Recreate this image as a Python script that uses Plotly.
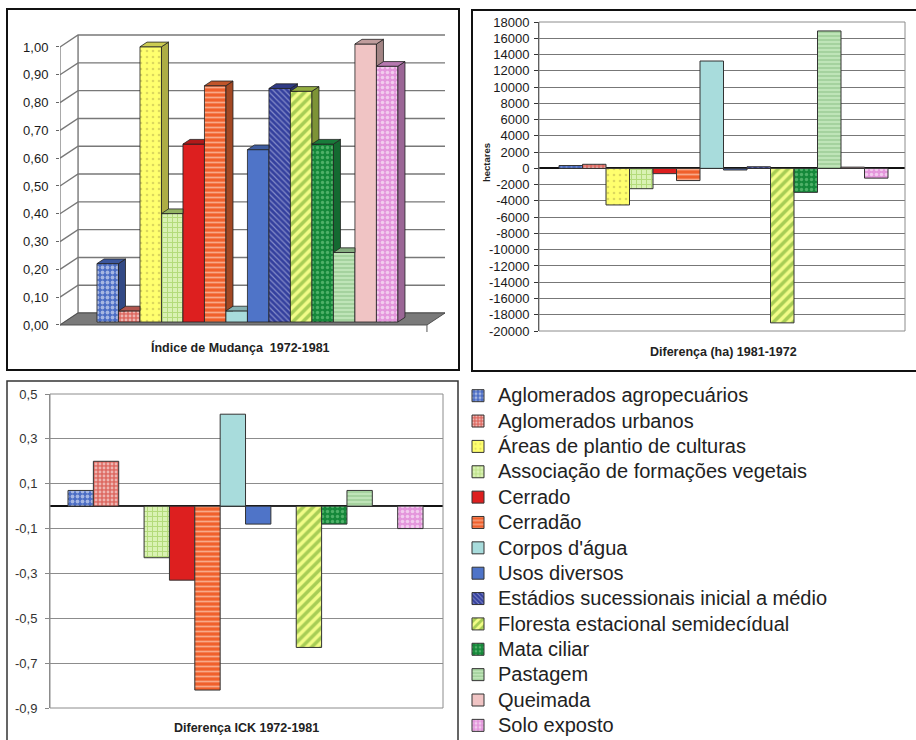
import plotly.graph_objects as go

W, H = 916, 740
FONT = "Liberation Sans, Arial, Helvetica, sans-serif"

# ---------------------------------------------------------------- data
categories = [
    "Aglomerados agropecuários",
    "Aglomerados urbanos",
    "Áreas de plantio de culturas",
    "Associação de formações vegetais",
    "Cerrado",
    "Cerradão",
    "Corpos d'água",
    "Usos diversos",
    "Estádios sucessionais inicial a médio",
    "Floresta estacional semidecídual",
    "Mata ciliar",
    "Pastagem",
    "Queimada",
    "Solo exposto",
]

indice_mudanca = [0.21, 0.04, 0.99, 0.39, 0.64, 0.85, 0.04, 0.62, 0.84, 0.83, 0.64, 0.25, 1.00, 0.92]
diferenca_ha = [350, 500, -4500, -2500, -650, -1500, 13200, -200, 200, -19000, -2950, 16900, 150, -1200]
diferenca_ick = [0.07, 0.20, 0.0, -0.23, -0.33, -0.82, 0.41, -0.08, 0.0, -0.63, -0.08, 0.07, 0.0, -0.10]

indice_ticks = [k / 10 for k in range(11)]
indice_ticktext = [f"{t:.2f}".replace(".", ",") for t in indice_ticks]
ha_ticks = list(range(-20000, 18001, 2000))
ha_ticktext = [str(t) for t in ha_ticks]
ick_ticks = [-0.9, -0.7, -0.5, -0.3, -0.1, 0.1, 0.3, 0.5]
ick_ticktext = [f"{t:.1f}".replace(".", ",") for t in ick_ticks]

# ---------------------------------------------------------------- fill styles
base_colors = ["#4a6cc4", "#dd6a62", "#ffff66", "#b8e07a", "#dd1f1f", "#f06a34", "#a8dcdc",
               "#4f74c8", "#3b48a6", "#b8d850", "#1e9a48", "#a8d8a0", "#f0c4c4", "#e496dc"]
pattern_shapes = [".", ".", ".", "+", "", "-", "", "", "\\", "/", ".", "-", "", "."]
pattern_fg = ["#ffffff", "#ffffff", "#b8b050", "#8cc440", "#dd1f1f", "#fff2e6", "#a8dcdc",
              "#4f74c8", "#d4d8f2", "#5c9e22", "#8ad896", "#68a862", "#f0c4c4", "#ffffff"]
pattern_bg = ["#4a6cc4", "#dd6a62", "#ffff6e", "#daf2b4", "#dd1f1f", "#f0602c", "#a8dcdc",
              "#4f74c8", "#34409e", "#f2fc88", "#15883a", "#bfe4b8", "#f0c4c4", "#e496dc"]
pattern_size = [5, 4, 6, 5, 8, 5, 8, 8, 4, 7, 5, 4, 8, 5]
pattern_solidity = [0.45, 0.4, 0.15, 0.35, 0.3, 0.35, 0.3, 0.3, 0.3, 0.5, 0.35, 0.3, 0.3, 0.4]

LEGEND_TEXT_PX = 20   # drawn size of the legend labels
LEGEND_ROW_PX = 17.2  # nominal legend font size, sets the row pitch


def hx(px):
    return px / W


def hy(py):
    return 1 - py / H


def shade(col, f):
    r, g, b = int(col[1:3], 16), int(col[3:5], 16), int(col[5:7], 16)
    return f"rgb({round(r * f)},{round(g * f)},{round(b * f)})"


def pattern(i):
    return dict(shape=pattern_shapes[i], fgcolor=pattern_fg[i], bgcolor=pattern_bg[i],
                size=pattern_size[i], solidity=pattern_solidity[i])


def clip_above(poly, h):
    """Keep the part of a polygon lying at or above the level h."""
    out = []
    n = len(poly)
    for k in range(n):
        p, q = poly[k], poly[(k + 1) % n]
        pin, qin = p[1] >= h, q[1] >= h
        if pin:
            out.append(p)
        if pin != qin:
            t = (h - p[1]) / (q[1] - p[1])
            out.append((p[0] + t * (q[0] - p[0]), h))
    return out


fig = go.Figure()

# ---------------------------------------------------------------- panel 1: 3-D columns
DX, DY = 0.84, 0.043          # floor depth (x in column widths, y in index units)
F0 = 0.25                     # depth at which the columns stand
BD = 0.39                     # column depth, as a share of the floor depth
SX, SY = BD * DX, BD * DY
X_LEFT, X_RIGHT = -2.22, 14.85
xb, xrb = X_LEFT + DX, X_RIGHT + DX

for i, v in enumerate(indice_mudanca):
    fig.add_trace(go.Bar(
        x=[i], y=[v], width=1, xaxis="x", yaxis="y", showlegend=False, hoverinfo="skip",
        marker=dict(color=base_colors[i], pattern=pattern(i), line=dict(color="#222", width=0.8)),
    ))

n = len(indice_mudanca)
for i, v in enumerate(indice_mudanca):
    h = indice_mudanca[i + 1] if i + 1 < n else 0.0
    xr = i + 0.5
    # right-hand face, hidden where the next column stands in front of it
    side = [(xr, 0.0), (xr + SX, SY), (xr + SX, v + SY), (xr, v)]
    if h > 0:
        side = clip_above(side, h)
    if len(side) >= 3:
        side = side + [side[0]]
        fig.add_trace(go.Scatter(
            x=[p[0] for p in side], y=[p[1] for p in side], mode="lines", fill="toself",
            fillcolor=shade(base_colors[i], 0.68), line=dict(color="#222", width=0.8),
            xaxis="x", yaxis="y", showlegend=False, hoverinfo="skip"))
    # top face
    t = min(max((h - v) / SY, 0.0), 1.0)
    if t >= 1.0:
        top = [(i - 0.5, v), (xr, v), (xr, v + SY), (i - 0.5 + SX, v + SY)]
    else:
        top = [(i - 0.5, v), (xr, v), (xr, v + SY * t), (xr + SX * t, v + SY * t),
               (xr + SX, v + SY), (i - 0.5 + SX, v + SY)]
    top = top + [top[0]]
    fig.add_trace(go.Scatter(
        x=[p[0] for p in top], y=[p[1] for p in top], mode="lines", fill="toself",
        fillcolor=shade(base_colors[i], 0.8), line=dict(color="#222", width=0.8),
        xaxis="x", yaxis="y", showlegend=False, hoverinfo="skip"))

shapes = []
for tv in indice_ticks:
    yf, ybk = tv - F0 * DY, tv + (1 - F0) * DY
    shapes.append(dict(type="path", path=f"M{X_LEFT},{yf} L{xb},{ybk} L{xrb},{ybk}",
                       xref="x", yref="y", line=dict(color="#787878", width=1.4), layer="below"))
shapes.append(dict(type="path", path=f"M{xb},{(1 - F0) * DY} L{xb},{1 + (1 - F0) * DY}",
                   xref="x", yref="y", line=dict(color="#787878", width=1.4), layer="below"))
shapes.append(dict(type="path",
                   path=(f"M{X_LEFT},{-F0 * DY} L{X_RIGHT},{-F0 * DY} "
                         f"L{xrb},{(1 - F0) * DY} L{xb},{(1 - F0) * DY} Z"),
                   xref="x", yref="y", fillcolor="#7a7a7a", line=dict(color="#505050", width=1),
                   layer="below"))
shapes.append(dict(type="path", path=f"M{X_LEFT},{-F0 * DY} L{X_LEFT},{1 - F0 * DY}",
                   xref="x", yref="y", line=dict(color="#707070", width=1.2), layer="below"))
shapes.append(dict(type="path", path=f"M{X_RIGHT},{-F0 * DY} L{X_RIGHT},{-F0 * DY - 0.025}",
                   xref="x", yref="y", line=dict(color="#707070", width=1.2), layer="below"))

# ---------------------------------------------------------------- panel 2: area difference
for i, v in enumerate(diferenca_ha):
    fig.add_trace(go.Bar(
        x=[i], y=[v], width=1, xaxis="x2", yaxis="y2", showlegend=False,
        name=categories[i],
        marker=dict(color=base_colors[i], pattern=pattern(i), line=dict(color="#333", width=1)),
    ))

# ---------------------------------------------------------------- panel 3: ICK difference
for i, v in enumerate(diferenca_ick):
    fig.add_trace(go.Bar(
        x=[i], y=[v], width=1, xaxis="x3", yaxis="y3",
        name=f'<span style="font-size:{LEGEND_TEXT_PX}px">{categories[i]}</span>',
        marker=dict(color=base_colors[i], pattern=pattern(i), line=dict(color="#333", width=1)),
    ))

# plot-area frames
shapes.append(dict(type="rect", xref="x2 domain", yref="y2 domain", x0=0, x1=1, y0=0, y1=1,
                   line=dict(color="#8c8c8c", width=1)))
shapes.append(dict(type="rect", xref="x3 domain", yref="y3 domain", x0=0, x1=1, y0=0, y1=1,
                   line=dict(color="#8c8c8c", width=1)))
# chart frames
shapes.append(dict(type="rect", xref="paper", yref="paper", x0=hx(7), x1=hx(459),
                   y0=hy(370), y1=hy(9), line=dict(color="#111", width=2)))
shapes.append(dict(type="rect", xref="paper", yref="paper", x0=hx(472), x1=hx(930),
                   y0=hy(371), y1=hy(10), line=dict(color="#111", width=2)))
shapes.append(dict(type="rect", xref="paper", yref="paper", x0=hx(7), x1=hx(458),
                   y0=hy(760), y1=hy(381), line=dict(color="#333", width=1.5)))

hidden_x = dict(showticklabels=False, showgrid=False, zeroline=False, showline=False, ticks="")
tickfont = dict(family=FONT, size=13, color="#1a1a1a")
title_font = dict(family=FONT, size=12.5, color="#222")


def label(text, px, py, **kw):
    return dict(text=text, x=hx(px), y=hy(py), xref="paper", yref="paper", showarrow=False,
                xanchor="center", yanchor="middle", **kw)


fig.update_layout(
    width=W, height=H, margin=dict(l=0, r=0, t=0, b=0, autoexpand=False),
    paper_bgcolor="white", plot_bgcolor="rgba(0,0,0,0)",
    barmode="overlay", font=dict(family=FONT, color="#222"),
    xaxis=dict(domain=[hx(60), hx(445)], range=[X_LEFT, xrb], anchor="y", **hidden_x),
    yaxis=dict(domain=[hy(340), hy(30)], range=[(322 - 340) / 278, (322 - 30) / 278], anchor="x",
               tickvals=[tv - F0 * DY for tv in indice_ticks], ticktext=indice_ticktext,
               ticks="outside", ticklen=3, tickcolor="#666", ticklabelstandoff=5,
               showgrid=False, zeroline=False, showline=False, tickfont=tickfont),
    xaxis2=dict(domain=[hx(539), hx(905)], range=[-1.351, 14.223], anchor="y2", **hidden_x),
    yaxis2=dict(domain=[hy(331), hy(22)], range=[-20000, 18000], anchor="x2",
                tickvals=ha_ticks, ticktext=ha_ticktext, ticks="outside", ticklen=4,
                tickcolor="#333", ticklabelstandoff=2,
                showgrid=True, gridcolor="#777777", gridwidth=1,
                zeroline=True, zerolinecolor="#111", zerolinewidth=1.5,
                showline=True, linecolor="#333", linewidth=1, tickfont=tickfont),
    xaxis3=dict(domain=[hx(50), hx(443)], range=[-1.21, 14.287], anchor="y3", **hidden_x),
    yaxis3=dict(domain=[hy(708), hy(394)], range=[-0.9, 0.5], anchor="x3",
                tickvals=ick_ticks, ticktext=ick_ticktext, ticks="outside", ticklen=4,
                tickcolor="#888", ticklabelstandoff=5,
                showgrid=True, gridcolor="#8c8c8c", gridwidth=1,
                zeroline=True, zerolinecolor="#111", zerolinewidth=1.5,
                showline=True, linecolor="#8c8c8c", linewidth=1,
                tickfont=dict(family=FONT, size=13, color="#333")),
    legend=dict(x=hx(458), y=hy(378), xanchor="left", yanchor="top",
                font=dict(family=FONT, size=LEGEND_ROW_PX, color="#222"),
                bgcolor="rgba(0,0,0,0)", borderwidth=0, tracegroupgap=0, itemwidth=30),
    shapes=shapes,
    annotations=[
        label("<b>Índice de Mudança\u00a0 1972-1981</b>", 241, 347, font=title_font),
        label("<b>Diferença (ha) 1981-1972</b>", 723, 352, font=title_font),
        label("<b>Diferença ICK 1972-1981</b>", 246, 728, font=title_font),
        label("<b>hectares</b>", 487, 163, textangle=-90,
              font=dict(family=FONT, size=9.5, color="#222")),
    ],
)

fig.write_html("out.html", config={"displayModeBar": False})
